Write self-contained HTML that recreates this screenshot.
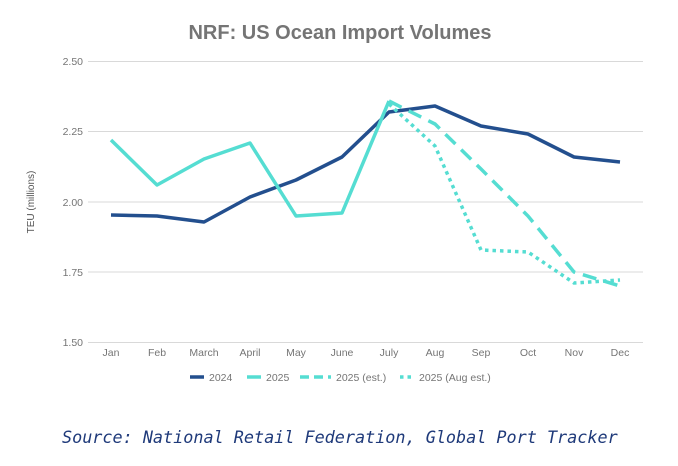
<!DOCTYPE html>
<html><head><style>
html,body{margin:0;padding:0;background:#fff;}
</style></head><body>
<svg width="678" height="466" xmlns="http://www.w3.org/2000/svg" style="display:block">
<rect width="678" height="466" fill="#fff"/>
<text x="340" y="39" text-anchor="middle" font-family="Liberation Sans, sans-serif" font-weight="bold" font-size="20" fill="#757575">NRF: US Ocean Import Volumes</text>
<g stroke="#d9d9d9" stroke-width="1">
<line x1="88" y1="61.5" x2="643" y2="61.5"/>
<line x1="88" y1="131.5" x2="643" y2="131.5"/>
<line x1="88" y1="202" x2="643" y2="202"/>
<line x1="88" y1="272" x2="643" y2="272"/>
<line x1="88" y1="342.5" x2="643" y2="342.5"/>
</g>
<g font-family="Liberation Sans, sans-serif" font-size="10.5" fill="#757575" text-anchor="end">
<text x="83" y="65">2.50</text><text x="83" y="135">2.25</text><text x="83" y="206">2.00</text><text x="83" y="276">1.75</text><text x="83" y="346">1.50</text>
</g>
<text transform="translate(34,202) rotate(-90)" text-anchor="middle" font-family="Liberation Sans, sans-serif" font-size="10" fill="#555">TEU (millions)</text>
<g font-family="Liberation Sans, sans-serif" font-size="10.5" fill="#757575" text-anchor="middle">
<text x="111" y="356">Jan</text><text x="157" y="356">Feb</text><text x="204" y="356">March</text><text x="250" y="356">April</text><text x="296" y="356">May</text><text x="342" y="356">June</text><text x="389" y="356">July</text><text x="435" y="356">Aug</text><text x="481" y="356">Sep</text><text x="528" y="356">Oct</text><text x="574" y="356">Nov</text><text x="620" y="356">Dec</text>
</g>
<polyline fill="none" stroke="#234f8e" stroke-width="3.5" stroke-linejoin="round" points="111,215 157,216 204,222 250,197 296,180 342,157 389,112 435,106 481,126 528,134 574,157 620,162"/>
<polyline fill="none" stroke="#55ddd2" stroke-width="3.5" stroke-linejoin="round" points="111,140 157,185 204,159 250,143 296,216 342,213 389,101"/>
<polyline fill="none" stroke="#55ddd2" stroke-width="3.5" stroke-dasharray="14,8" points="389,101 435,124 481,169 528,216 574,272 620,286"/>
<polyline fill="none" stroke="#55ddd2" stroke-width="3.5" stroke-dasharray="3.5,4" points="389,104 435,146 481,250 528,252 574,283 620,280"/>
<g font-family="Liberation Sans, sans-serif" font-size="10.5" fill="#757575">
<line x1="190" y1="377" x2="204" y2="377" stroke="#234f8e" stroke-width="3.5"/><text x="209" y="381">2024</text>
<line x1="247" y1="377" x2="261" y2="377" stroke="#55ddd2" stroke-width="3.5"/><text x="266" y="381">2025</text>
<line x1="300" y1="377" x2="331" y2="377" stroke="#55ddd2" stroke-width="3.5" stroke-dasharray="9,5"/><text x="336" y="381">2025 (est.)</text>
<line x1="400" y1="377" x2="414" y2="377" stroke="#55ddd2" stroke-width="3.5" stroke-dasharray="3.5,4"/><text x="419" y="381">2025 (Aug est.)</text>
</g>
<text x="62" y="443" font-family="DejaVu Sans Mono, Liberation Mono, monospace" font-style="italic" font-size="16.8" fill="#1f3a7a">Source: National Retail Federation, Global Port Tracker</text>
</svg>
</body></html>
